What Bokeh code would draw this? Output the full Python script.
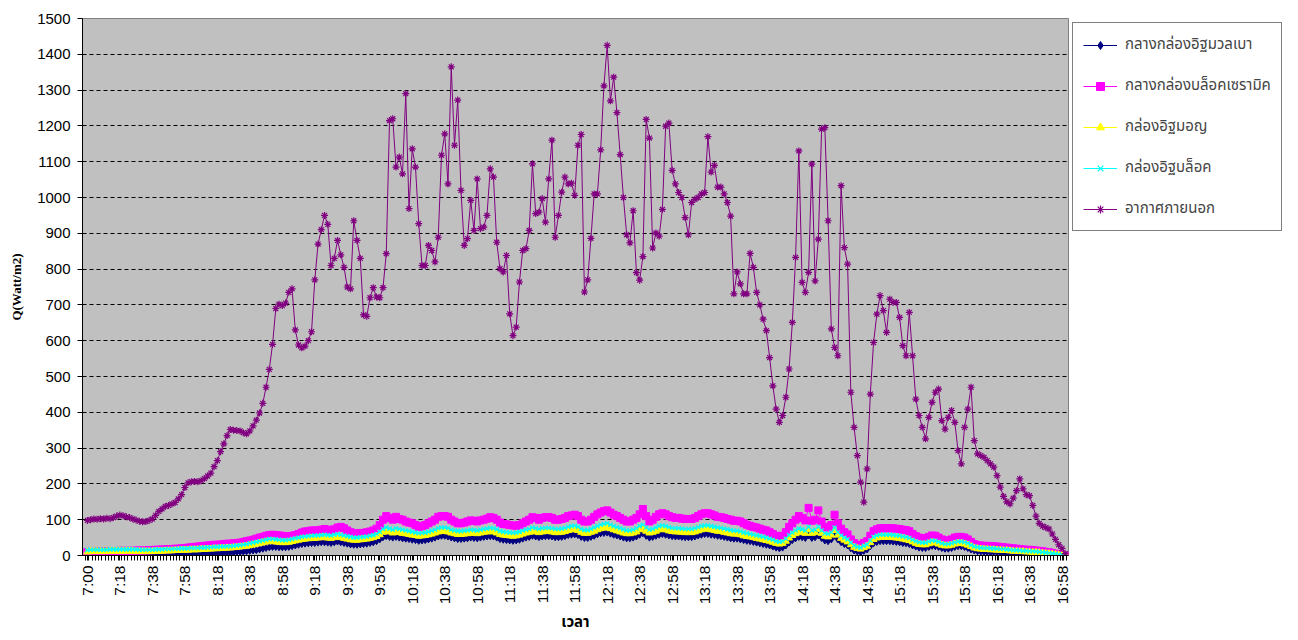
import math
from bokeh.plotting import figure
from bokeh.models import Range1d, FixedTicker, Legend, LegendItem
from bokeh.embed import file_html
from bokeh.resources import INLINE

tick_labels = ["7:00", "7:18", "7:38", "7:58", "8:18", "8:38", "8:58", "9:18", "9:38", "9:58",
               "10:18", "10:38", "10:58", "11:18", "11:38", "11:58", "12:18", "12:38", "12:58",
               "13:18", "13:38", "13:58", "14:18", "14:38", "14:58", "15:18", "15:38", "15:58",
               "16:18", "16:38", "16:58"]

series_names = ["กลางกล่องอิฐมวลเบา", "กลางกล่องบล็อคเซรามิค", "กล่องอิฐมอญ", "กล่องอิฐบล็อค", "อากาศภายนอก"]

outside = [
    98, 100, 102, 101, 103, 102, 104, 103, 106, 110,
    113, 111, 108, 106, 102, 99, 96, 94, 95, 98,
    102, 112, 123, 130, 137, 140, 144, 148, 158, 170,
    190, 203, 206, 207, 206, 209, 215, 222, 230, 248,
    265, 290, 312, 335, 352, 350, 349, 348, 343, 340,
    348, 362, 378, 398, 425, 470, 520, 590, 690, 702,
    698, 705, 735, 745, 630, 588, 580, 585, 600, 625,
    770, 870, 910, 950, 925, 810, 830, 880, 840, 805,
    750, 745, 935, 880, 830, 672, 668, 720, 748, 722,
    720, 748, 843, 1215, 1220, 1085, 1113, 1066, 1290, 969,
    1136, 1085, 927, 810, 810, 866, 852, 820, 889, 1118,
    1178, 1038, 1365, 1146, 1272, 1020, 866, 885, 992, 908,
    1052, 913, 917, 950, 1080, 1057, 875, 801, 792, 838,
    675, 614, 638, 764, 852, 857, 908, 1094, 955, 959,
    997, 931, 1052, 1160, 889, 950, 1015, 1057, 1038, 1040,
    1006, 1146, 1176, 736, 770, 886, 1010, 1010, 1133, 1312,
    1425, 1270, 1336, 1237, 1120, 1000, 896, 873, 963, 790,
    769, 835, 1218, 1166, 859, 901, 892, 967, 1199, 1208,
    1076, 1038, 1014, 1000, 944, 896, 986, 995, 1000, 1010,
    1014, 1170, 1071, 1090, 1029, 1029, 1010, 986, 948, 731,
    792, 759, 731, 731, 844, 805, 735, 700, 660, 628,
    553, 474, 409, 372, 391, 442, 521, 651, 833, 1130,
    763, 735, 791, 1093, 767, 884, 1191, 1195, 935, 633,
    581, 558, 1033, 860, 814, 456, 358, 279, 205, 149,
    242, 451, 595, 674, 726, 684, 623, 716, 707, 707,
    665, 586, 558, 679, 558, 437, 391, 358, 326, 386,
    428, 456, 465, 377, 353, 386, 405, 372, 293, 256,
    358, 409, 470, 321, 284, 279, 274, 265, 256, 247,
    223, 191, 165, 150, 144, 160, 181, 214, 186, 170,
    167, 140, 110, 90, 82, 78, 74, 60, 45, 30,
    20, 5]

ceramic_mid = [
    10, 10, 10, 11, 11, 11, 12, 12, 12, 12,
    13, 13, 13, 13, 13, 14, 14, 14, 14, 15,
    15, 16, 16, 17, 17, 18, 18, 19, 19, 20,
    21, 22, 23, 24, 25, 26, 27, 28, 29, 30,
    30, 31, 32, 33, 33, 34, 35, 36, 38, 40,
    42, 44, 47, 50, 52, 55, 57, 58, 57, 56,
    55, 54, 54, 55, 57, 60, 64, 67, 68, 70,
    70, 70, 72, 74, 72, 70, 73, 78, 80, 76,
    70, 65, 62, 62, 63, 63, 65, 67, 70, 75,
    85, 100, 110, 105, 100, 108, 102, 100, 95, 92,
    90, 85, 80, 82, 85, 90, 95, 100, 108, 110,
    110, 108, 100, 95, 90, 90, 92, 95, 98, 97,
    95, 98, 100, 103, 107, 105, 100, 92, 88, 87,
    85, 84, 83, 85, 90, 95, 100, 107, 105, 100,
    105, 107, 107, 105, 100, 100, 102, 105, 110, 112,
    114, 110, 100, 95, 95, 100, 108, 115, 120, 124,
    126, 120, 114, 110, 105, 100, 95, 95, 100, 105,
    115, 130, 110, 95, 100, 108, 115, 118, 115, 110,
    107, 105, 105, 103, 102, 102, 102, 105, 110, 115,
    118, 118, 115, 112, 108, 107, 105, 102, 100, 97,
    97, 95, 90, 86, 83, 80, 78, 75, 72, 70,
    65, 60, 55, 52, 55, 65, 80, 90, 100, 110,
    105, 98, 133, 97, 100, 126, 95, 80, 78, 85,
    114, 90, 75, 65, 59, 45, 35, 30, 28, 35,
    40, 55, 68, 73, 76, 76, 76, 76, 76, 75,
    74, 72, 71, 68, 60, 54, 50, 48, 48, 52,
    56, 55, 50, 45, 42, 42, 45, 50, 52, 52,
    50, 45, 38, 32, 29, 28, 27, 27, 26, 26,
    25, 24, 23, 22, 21, 20, 19, 18, 17, 16,
    16, 15, 14, 13, 12, 10, 9, 7, 5, 4,
    2, 0]

block_box = [
    15, 16, 16, 16, 16, 16, 16, 17, 17, 17,
    17, 17, 17, 17, 17, 17, 16, 16, 16, 16,
    16, 17, 17, 17, 18, 18, 18, 19, 19, 20,
    20, 20, 21, 21, 21, 22, 22, 23, 23, 24,
    24, 25, 25, 26, 26, 27, 28, 29, 30, 32,
    34, 36, 38, 40, 42, 44, 46, 46, 45, 44,
    43, 43, 44, 46, 48, 50, 52, 53, 54, 55,
    56, 56, 57, 58, 57, 56, 58, 60, 58, 56,
    54, 52, 50, 50, 51, 52, 53, 55, 57, 60,
    66, 74, 78, 75, 72, 76, 74, 72, 70, 68,
    66, 64, 62, 63, 64, 66, 69, 72, 76, 78,
    78, 76, 72, 70, 68, 68, 69, 70, 72, 71,
    70, 72, 74, 75, 77, 76, 73, 68, 66, 65,
    64, 63, 64, 66, 69, 72, 74, 78, 76, 74,
    76, 77, 77, 76, 74, 74, 75, 77, 80, 82,
    83, 80, 74, 71, 71, 74, 78, 82, 86, 88,
    90, 86, 82, 79, 76, 73, 70, 70, 72, 76,
    82, 86, 78, 72, 74, 78, 82, 84, 82, 79,
    77, 76, 76, 75, 74, 74, 74, 76, 79, 82,
    84, 84, 82, 80, 78, 77, 75, 73, 71, 69,
    69, 67, 64, 62, 60, 58, 56, 54, 52, 50,
    47, 44, 40, 38, 40, 47, 57, 64, 70, 75,
    73, 70, 80, 70, 72, 80, 70, 62, 60, 65,
    78, 65, 56, 50, 45, 36, 28, 24, 22, 27,
    31, 42, 52, 56, 58, 58, 58, 58, 57, 56,
    55, 53, 51, 49, 44, 40, 37, 36, 36, 39,
    42, 41, 38, 34, 32, 32, 34, 37, 39, 39,
    37, 34, 29, 25, 23, 22, 21, 21, 20, 20,
    19, 18, 18, 17, 16, 15, 15, 14, 13, 13,
    12, 12, 11, 10, 9, 8, 7, 6, 5, 3,
    2, 1]

brick_box = [
    10, 11, 11, 11, 11, 11, 11, 12, 12, 12,
    12, 12, 12, 12, 12, 11, 11, 11, 11, 11,
    11, 12, 12, 12, 13, 13, 13, 14, 14, 15,
    15, 15, 16, 16, 16, 17, 17, 18, 18, 19,
    19, 20, 20, 21, 21, 22, 23, 24, 25, 26,
    28, 30, 32, 34, 36, 38, 39, 39, 38, 37,
    36, 36, 37, 39, 41, 43, 45, 46, 47, 48,
    48, 49, 50, 50, 49, 48, 50, 52, 50, 48,
    46, 44, 43, 43, 44, 45, 46, 48, 50, 53,
    58, 65, 68, 66, 63, 66, 64, 62, 61, 59,
    57, 56, 54, 55, 56, 58, 60, 63, 66, 68,
    68, 66, 63, 61, 59, 59, 60, 61, 63, 62,
    61, 63, 65, 66, 67, 66, 63, 59, 57, 56,
    55, 54, 55, 57, 60, 63, 65, 68, 66, 64,
    66, 67, 67, 66, 64, 64, 65, 67, 70, 72,
    73, 70, 65, 62, 62, 65, 68, 72, 75, 77,
    78, 75, 72, 69, 66, 63, 61, 61, 63, 66,
    72, 76, 68, 63, 65, 68, 72, 74, 72, 69,
    67, 66, 66, 65, 64, 64, 64, 66, 69, 72,
    74, 74, 72, 70, 68, 67, 65, 63, 61, 60,
    60, 58, 55, 53, 52, 50, 48, 46, 44, 42,
    40, 37, 34, 32, 34, 40, 49, 56, 61, 66,
    64, 62, 72, 62, 64, 72, 62, 54, 52, 57,
    70, 57, 48, 43, 38, 30, 23, 20, 18, 22,
    26, 36, 45, 49, 51, 51, 51, 51, 50, 49,
    48, 46, 44, 42, 38, 34, 31, 30, 30, 33,
    36, 35, 32, 29, 27, 27, 29, 32, 34, 34,
    32, 29, 25, 21, 19, 18, 17, 17, 16, 16,
    15, 15, 14, 14, 13, 12, 12, 11, 11, 10,
    10, 9, 9, 8, 7, 6, 5, 4, 3, 2,
    1, 0]

lightweight_mid = [
    1, 1, 1, 1, 1, 1, 1, 1, 1, 1,
    1, 1, 1, 1, 1, 1, 1, 1, 1, 1,
    2, 2, 2, 2, 2, 3, 3, 3, 3, 3,
    4, 4, 4, 4, 5, 5, 5, 6, 6, 6,
    7, 7, 8, 8, 9, 9, 10, 10, 11, 12,
    13, 14, 15, 17, 19, 21, 23, 24, 24, 23,
    23, 23, 24, 26, 28, 30, 32, 33, 34, 35,
    35, 36, 37, 37, 36, 35, 37, 39, 37, 35,
    33, 31, 30, 30, 31, 32, 33, 35, 37, 40,
    45, 51, 54, 52, 50, 52, 50, 48, 47, 46,
    44, 43, 41, 42, 43, 45, 47, 50, 53, 55,
    55, 53, 50, 48, 46, 46, 47, 48, 50, 49,
    48, 50, 52, 53, 54, 53, 50, 46, 44, 43,
    42, 41, 42, 44, 47, 50, 52, 55, 53, 51,
    53, 54, 54, 53, 51, 51, 52, 54, 57, 58,
    59, 57, 52, 49, 49, 52, 55, 59, 62, 63,
    64, 61, 58, 56, 53, 50, 48, 48, 50, 53,
    58, 62, 55, 50, 52, 55, 58, 60, 58, 56,
    54, 53, 53, 52, 51, 51, 51, 53, 56, 58,
    60, 60, 58, 57, 55, 54, 52, 50, 48, 47,
    47, 45, 43, 41, 40, 38, 36, 34, 32, 30,
    28, 25, 22, 20, 22, 28, 36, 43, 48, 52,
    51, 49, 56, 49, 51, 56, 49, 42, 40, 45,
    55, 45, 37, 32, 28, 20, 14, 11, 9, 13,
    17, 26, 34, 38, 40, 40, 40, 40, 39, 38,
    37, 35, 34, 32, 28, 25, 22, 21, 21, 24,
    27, 26, 24, 21, 19, 19, 21, 24, 26, 26,
    24, 21, 17, 14, 12, 11, 10, 10, 9, 9,
    9, 8, 8, 7, 7, 6, 6, 5, 5, 5,
    4, 4, 4, 3, 3, 3, 2, 2, 1, 1,
    0, 0]

p = figure(frame_width=986, frame_height=537, min_border_left=82, min_border_top=18,
           min_border_bottom=82, min_border_right=0,
           x_range=Range1d(-1.5, 302), y_range=Range1d(0, 1500),
           output_backend="svg", toolbar_location=None,
           background_fill_color="#C0C0C0", border_fill_color="white",
           outline_line_color="#808080")

series = [
    (lightweight_mid, "#000080", "diamond", 7, True),
    (ceramic_mid, "#FF00FF", "square", 7, True),
    (brick_box, "#FFFF00", "triangle", 7, True),
    (block_box, "#00FFFF", "x", 6, False),
    (outside, "#800080", "asterisk", 7, False),
]

items = []
for (vals, col, mk, sz, filled), name in zip(series, series_names):
    xs = list(range(len(vals)))
    lr = p.line(xs, vals, line_color=col, line_width=1)
    if filled:
        sr = p.scatter(xs, vals, marker=mk, size=sz, fill_color=col, line_color=col)
    else:
        sr = p.scatter(xs, vals, marker=mk, size=sz, line_color=col, line_width=1.2)
    items.append(LegendItem(label=name, renderers=[lr, sr]))

legend = Legend(items=items, location="top_left")
legend.border_line_color = "black"
legend.border_line_width = 1
legend.background_fill_color = "white"
legend.background_fill_alpha = 1
legend.padding = 10
legend.spacing = 18
legend.margin = 4
legend.glyph_width = 34
legend.glyph_height = 20
legend.label_height = 20
legend.label_standoff = 8
legend.label_text_font_size = "15px"
legend.label_text_font = "Noto Sans Thai, Tahoma, Noto Sans, sans-serif"
p.add_layout(legend, "right")

tick_idx = list(range(0, 10 * len(tick_labels), 10))
p.xaxis.ticker = FixedTicker(ticks=tick_idx, minor_ticks=[i - 0.5 for i in range(len(outside) + 1)])
p.xaxis.major_label_overrides = {t: lab for t, lab in zip(tick_idx, tick_labels)}
p.xaxis.major_label_orientation = math.pi / 2
p.xaxis.major_label_text_font = "Liberation Sans"
p.xaxis.major_label_text_font_size = "15.5px"
p.xaxis.major_label_standoff = 5
p.xaxis.major_tick_in = 0
p.xaxis.major_tick_out = 5
p.xaxis.minor_tick_in = 0
p.xaxis.minor_tick_out = 5
p.xaxis.axis_label = "เวลา"
p.xaxis.axis_label_text_font_style = "bold"
p.xaxis.axis_label_text_font_size = "15px"
p.xaxis.axis_label_text_font = "Noto Sans Thai, Tahoma, Noto Sans, sans-serif"
p.xaxis.axis_label_standoff = 4

p.yaxis.ticker = FixedTicker(ticks=list(range(0, 1600, 100)), minor_ticks=[])
p.yaxis.major_label_text_font = "Liberation Sans"
p.yaxis.major_label_text_font_size = "15px"
p.yaxis.major_label_standoff = 7
p.yaxis.major_tick_in = 0
p.yaxis.major_tick_out = 5
p.yaxis.axis_label = "Q(Watt/m2)"
p.yaxis.axis_label_text_font = "Liberation Serif"
p.yaxis.axis_label_text_font_style = "bold"
p.yaxis.axis_label_text_font_size = "13px"
p.yaxis.axis_label_standoff = 10

for ax in (p.xaxis, p.yaxis):
    ax.axis_line_color = "black"
    ax.major_tick_line_color = "black"
    ax.minor_tick_line_color = "black"
    ax.major_label_text_color = "black"
    ax.axis_label_text_color = "black"

p.xgrid.grid_line_color = None
p.ygrid.ticker = FixedTicker(ticks=list(range(100, 1500, 100)))
p.ygrid.grid_line_color = "black"
p.ygrid.grid_line_dash = "4 3"
p.ygrid.grid_line_width = 1

open("out.html", "w").write(file_html(p, INLINE))
